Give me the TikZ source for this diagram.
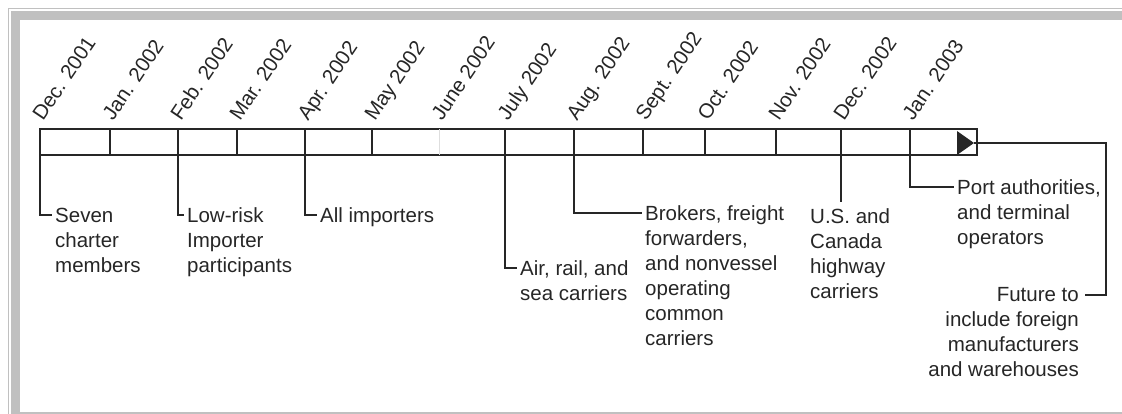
\documentclass[tikz,border=0pt]{standalone}
\usepackage{fontspec}
\setmainfont{Liberation Sans}
\usetikzlibrary{calc,positioning}
\definecolor{framegray}{HTML}{C0C0C0}
\definecolor{ink}{HTML}{262626}
\tikzset{
  month/.style={rotate=56, anchor=base west, inner sep=0pt, text=ink,
    font=\fontsize{20.5}{24}\selectfont},
  callout/.style={align=left, inner xsep=3pt, inner ysep=0pt, text=ink,
    font=\fontsize{20.5}{25}\selectfont},
  leader/.style={draw=ink, line width=1.3pt},
}

\begin{document}
\begin{tikzpicture}[x=1pt, y=-1pt]
  \useasboundingbox (0,0) rectangle (1122,414);
  % frame
  \fill[framegray] (11,11) rectangle (1122,20);
  \fill[framegray] (11,11) rectangle (20,414);
  \fill[framegray] (20,411.5) rectangle (1122,414);
  \draw[framegray, line width=1.5pt] (8.5,414) -- (8.5,8.5) -- (1122,8.5);
  % time bar
  \coordinate (dec01) at (40,129);
  \coordinate (jan02) at (110,129);
  \coordinate (feb02) at (178,129);
  \coordinate (mar02) at (237,129);
  \coordinate (apr02) at (305,129);
  \coordinate (may02) at (372,129);
  \coordinate (jun02) at (439,129);
  \coordinate (jul02) at (505,129);
  \coordinate (aug02) at (574,129);
  \coordinate (sep02) at (643,129);
  \coordinate (oct02) at (705,129);
  \coordinate (nov02) at (776,129);
  \coordinate (dec02) at (841,129);
  \coordinate (jan03) at (910,129);
  \coordinate (barend) at (977,155);
  \draw[leader] (dec01) rectangle (barend);
  \draw[leader] (jan02) -- ++(0,26);
  \draw[leader] (mar02) -- ++(0,26);
  \draw[leader] (may02) -- ++(0,26);
  \draw[draw=ink!15, line width=1pt] (jun02) -- ++(0,26);
  \draw[leader] (sep02) -- ++(0,26);
  \draw[leader] (oct02) -- ++(0,26);
  \draw[leader] (nov02) -- ++(0,26);
  \fill[ink] (957,131) -- (974,143) -- (957,155) -- cycle;
  \coordinate (endtip) at (974,143);
  \coordinate (corner) at (1106,143);
  % months
  \node[month] (ldec01) at ($(dec01)+(3,-7)$) {Dec. 2001};
  \node[month] (ljan02) at ($(jan02)+(3,-7)$) {Jan. 2002};
  \node[month] (lfeb02) at ($(feb02)+(3,-7)$) {Feb. 2002};
  \node[month] (lmar02) at ($(mar02)+(3,-7)$) {Mar. 2002};
  \node[month] (lapr02) at ($(apr02)+(3,-7)$) {Apr. 2002};
  \node[month] (lmay02) at ($(may02)+(3,-7)$) {May 2002};
  \node[month] (ljun02) at ($(jun02)+(3,-7)$) {June 2002};
  \node[month] (ljul02) at ($(jul02)+(3,-7)$) {July 2002};
  \node[month] (laug02) at ($(aug02)+(3,-7)$) {Aug. 2002};
  \node[month] (lsep02) at ($(sep02)+(3,-7)$) {Sept. 2002};
  \node[month] (loct02) at ($(oct02)+(3,-7)$) {Oct. 2002};
  \node[month] (lnov02) at ($(nov02)+(3,-7)$) {Nov. 2002};
  \node[month] (ldec02) at ($(dec02)+(3,-7)$) {Dec. 2002};
  \node[month] (ljan03) at ($(jan03)+(3,-7)$) {Jan. 2003};
  % participants
  \node[callout, anchor=north west] (seven) at (52,207.6) {Seven\\charter\\members};
  \node[callout, anchor=north west] (lowrisk) at (184,207.6) {Low-risk\\Importer\\participants};
  \node[callout, anchor=north west] (allimp) at (317,207.6) {All importers};
  \node[callout, anchor=north west] (airrail) at (517,260.6) {Air, rail, and\\sea carriers};
  \node[callout, anchor=north west] (brokers) at (642,205.6) {Brokers, freight\\forwarders,\\and nonvessel\\operating\\common\\carriers};
  \node[callout, anchor=north west] (uscan) at (807,208) {U.S. and\\Canada\\highway\\carriers};
  \node[callout, anchor=north west] (port) at (954,179.6) {Port authorities,\\and terminal\\operators};
  \node[callout, anchor=north east, align=right, inner xsep=6pt] (future) at (1085,287.6) {Future to\\include foreign\\manufacturers\\and warehouses};
  % leaders
  \draw[leader] (dec01) |- ([yshift=-7.4pt]seven.north west);
  \draw[leader] (feb02) |- ([yshift=-7.4pt]lowrisk.north west);
  \draw[leader] (apr02) |- ([yshift=-7.4pt]allimp.north west);
  \draw[leader] (jul02) |- ([yshift=-7.4pt]airrail.north west);
  \draw[leader] (aug02) |- ([yshift=-7.4pt]brokers.north west);
  \draw[leader] (dec02) -- ([yshift=6pt]dec02 |- uscan.north);
  \draw[leader] (jan03) |- ([yshift=-7.4pt]port.north west);
  \draw[leader] ([yshift=-7.4pt]future.north east) -| (corner) -- (endtip);
\end{tikzpicture}
\end{document}
